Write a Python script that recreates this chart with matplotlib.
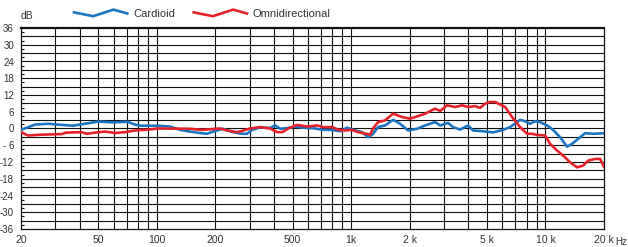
import numpy as np
import matplotlib
matplotlib.use("Agg")
import matplotlib.pyplot as plt
from matplotlib.legend_handler import HandlerBase
from matplotlib.lines import Line2D

plt.rcParams['font.family'] = ['Liberation Sans', 'DejaVu Sans']

# ---- data (frequency in Hz, level in dB) ----
card_f = [20, 23.6, 27.6, 31, 37, 42.7, 50, 59, 71, 77, 83, 101, 117, 132, 148, 166, 181, 195,
          219, 246, 274, 291, 309, 340, 383, 406, 432, 474, 515, 566, 638, 717, 797, 877, 952,
          1048, 1138, 1222, 1296, 1376, 1494, 1643, 1785, 1962, 2184, 2400, 2702, 2868, 3152,
          3346, 3634, 3996, 4240, 4774, 5376, 6050, 6572, 7142, 7400, 7852, 8332, 8838, 9380,
          10192, 10940, 11886, 12916, 13704, 14716, 15986, 17580, 20000]
card_db = [-0.5, 1.4, 1.7, 1.4, 1.0, 1.7, 2.5, 2.2, 2.4, 1.4, 1.0, 1.0, 0.7, -0.5, -1.1, -1.6, -1.9, -1.1,
           -0.1, -1.3, -1.9, -1.9, -0.5, 0.4, 0.2, 1.1, -0.1, 0.2, 0.7, 0.3, 0.1, -0.5, -0.5, -1.0, 0.3,
           -0.7, -1.3, -3.1, -1.9, 0.5, 1.1, 3.1, 1.7, -0.7, -0.1, 1.1, 2.3, 1.1, 2.0,
           0.5, -0.4, 1.1, -0.7, -1.0, -1.4, -0.5, 0.5, 2.3, 3.1, 2.6, 1.7, 2.6, 2.3,
           1.1, -0.5, -3.1, -6.5, -5.5, -3.7, -1.7, -1.9, -1.7]

omni_f = [20, 21.7, 25.7, 32.5, 33.9, 41, 43.6, 48, 54, 61, 69, 74, 80, 90, 101, 148, 171, 211,
          230, 258, 274, 301, 340, 383, 416, 443, 474, 527, 593, 669, 717, 797, 856, 930, 1010,
          1085, 1251, 1296, 1376, 1494, 1643, 1828, 2010, 2400, 2702, 2868, 3116, 3426, 3722,
          3996, 4342, 4606, 4886, 5186, 5504, 5840, 6196, 6730, 7400, 8040, 8532, 9050, 9952,
          10558, 11472, 12318, 13382, 14542, 15612, 16566, 18004, 19096, 20000]
omni_db = [-1.3, -2.5, -2.2, -2.0, -1.5, -1.3, -1.9, -1.5, -1.1, -1.6, -1.3, -0.9, -0.6, -0.4, 0.0, -0.1, -0.5, 0.0,
           -0.7, -1.3, -0.9, 0.0, 0.5, 0.0, -1.3, -1.3, 0.0, 1.3, 0.7, 1.1, 0.5, 0.5, -0.4, -0.7, -0.5,
           -1.3, -2.2, 0.0, 2.3, 2.9, 5.3, 4.1, 3.5, 5.3, 7.1, 6.3, 8.3, 7.7, 8.3,
           7.7, 8.0, 7.4, 8.9, 9.5, 9.5, 8.6, 7.7, 4.1, 0.5, -1.9, -1.9, -2.3, -2.5,
           -5.5, -7.9, -9.7, -12.1, -13.9, -13.3, -11.5, -10.9, -10.9, -13.7]

x_ticks = [20, 50, 100, 200, 500, 1000, 2000, 5000, 10000, 20000]
x_labels = ['20', '50', '100', '200', '500', '1k', '2 k', '5 k', '10 k', '20 k']
y_ticks = list(range(-36, 37, 6))
y_labels = ['-36', '-30', '-24', '-18', '-12', '- 6', '0', '6', '12', '18', '24', '30', '36']

blue = '#1b75c2'
red = '#e5222b'
txt = '#333333'


class ZigZag(HandlerBase):
    # legend glyph drawn as a little zigzag like the reference
    def create_artists(self, legend, orig, xd, yd, width, height, fontsize, trans):
        xs = xd + width * np.array([0.0, 0.36, 0.74, 1.0])
        ys = yd + height * np.array([0.6, 0.1, 0.95, 0.45])
        ln = Line2D(xs, ys, color=orig.get_color(), lw=orig.get_linewidth(),
                    solid_joinstyle='miter', transform=trans)
        return [ln]


fig = plt.figure(figsize=(6.28, 2.47), dpi=100)
ax = fig.add_axes([21 / 628, 1 - 229 / 247, 583 / 628, 201 / 247])

ax.set_xscale('log')
ax.set_xlim(20, 20000)
ax.set_ylim(-36, 36)

# grid: every 3 dB horizontally, every 1-2-3..9 decade step vertically
for v in range(-33, 36, 3):
    ax.axhline(v, color='#111111', lw=0.8, zorder=1)
grid_f = [m * d for d in (10, 100, 1000, 10000) for m in range(1, 10)]
for f in grid_f:
    if 20 < f < 20000:
        ax.axvline(f, color='#111111', lw=0.8, zorder=1)

l1, = ax.plot(card_f, card_db, color=blue, lw=1.9, zorder=3, label='Cardioid')
l2, = ax.plot(omni_f, omni_db, color=red, lw=1.9, zorder=3, label='Omnidirectional')

ax.set_xticks(x_ticks)
ax.set_xticklabels(x_labels)
ax.xaxis.set_minor_locator(matplotlib.ticker.NullLocator())
ax.tick_params(axis='x', length=0, pad=4, labelsize=7.5, labelcolor=txt)

ax.set_yticks(y_ticks)
ax.set_yticklabels(y_labels)
ax.set_yticks(np.arange(-34.5, 36, 1.5), minor=True)
ax.tick_params(axis='y', which='major', length=0, pad=5, labelsize=7, labelcolor=txt)
ax.tick_params(axis='y', which='minor', direction='in', length=2, width=0.8, color='#111111')

for s in ax.spines.values():
    s.set_color('#111111')
    s.set_linewidth(0.9)
ax.spines['top'].set_linewidth(1.6)

fig.text(21 / 628, 1 - 16 / 247, 'dB', fontsize=7.5, color=txt, va='center', ha='left')
fig.text(627 / 628, 1 - 242 / 247, 'Hz', fontsize=7, color=txt, va='center', ha='right')

fig.legend(handles=[l1, l2], handler_map={Line2D: ZigZag()}, loc='center left',
           bbox_to_anchor=(74 / 628, 1 - 14 / 247), ncol=2, frameon=False,
           fontsize=8, labelcolor=txt, handlelength=4.8, handletextpad=0.5,
           columnspacing=1.7, borderpad=0, borderaxespad=0)

fig.savefig('out.png', dpi=100)
